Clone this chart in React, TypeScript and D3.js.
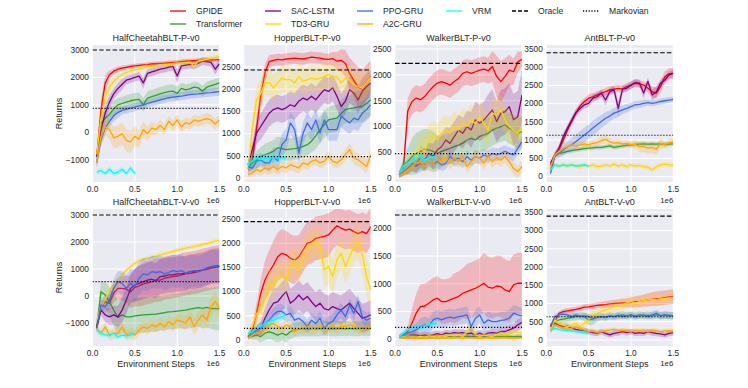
import React from 'react'
import * as d3 from 'd3'

// x positions of the logged points, in units of 1e6 environment steps
const STEPS = [0.05,0.1,0.15,0.2,0.25,0.3,0.35,0.4,0.45,0.5,0.55,0.6,0.65,0.7,0.75,0.8,0.85,0.9,0.95,1.0,1.05,1.1,1.15,1.2,1.25,1.3,1.35,1.4,1.45,1.5]
const VRM_STEPS = [0.05,0.1,0.15,0.2,0.25,0.3,0.35,0.4,0.45,0.5]

const METHODS = ['GPIDE','Transformer','SAC-LSTM','TD3-GRU','PPO-GRU','A2C-GRU','VRM']
const X_TICKS = [0, 0.5, 1.0, 1.5]
const HC_TICKS = [-1000, 0, 1000, 2000, 3000]
const HOP_TICKS = [0, 500, 1000, 1500, 2000, 2500]
const WALK_P_TICKS = [0, 500, 1000, 1500, 2000, 2500]
const WALK_V_TICKS = [0, 500, 1000, 1500, 2000]
const ANT_TICKS = [0, 500, 1000, 1500, 2000, 2500, 3000, 3500]

/* HalfCheetahBLT-P-v0 */
const HCP_GPIDE = [-900,800,1800,2100,2230,2300,2340,2370,2400,2420,2440,2460,2470,2490,2500,2510,2520,2540,2550,2560,2580,2590,2600,2610,2620,2620,2630,2640,2640,2650]
const HCP_GPIDE_SD = [300,400,300,150,100,100,100,80,80,80,80,80,80,80,80,80,80,80,80,80,80,80,80,80,80,80,80,80,80,80]
const HCP_TR = [-900,330,500,650,850,1000,1050,1100,1150,1180,1200,1000,1250,1300,1350,1400,1450,1480,1500,1420,1600,1550,1580,1650,1620,1500,1650,1700,1750,1800]
const HCP_TR_SD = [300,300,300,300,300,250,250,250,250,250,250,250,250,250,250,250,250,250,250,250,200,200,200,200,200,200,200,200,200,200]
const HCP_SAC = [-900,80,700,1100,1400,1600,1750,1900,1950,2000,2050,1800,2150,2200,2250,2300,2330,2380,2400,2050,2420,2450,2480,2450,2520,2600,2580,2550,2300,2500]
const HCP_SAC_SD = [300,400,300,250,200,200,200,150,150,150,150,200,150,150,150,150,150,150,150,250,150,150,150,150,150,150,150,150,200,150]
const HCP_TD3 = [-800,500,1300,1650,1850,2000,2100,2180,2240,2280,2320,2350,2380,2400,2420,2440,2460,2480,2500,2520,2530,2550,2560,2400,2600,2620,2660,2700,2730,2760]
const HCP_TD3_SD = [300,400,300,200,150,120,100,100,100,100,100,100,100,100,100,100,100,100,100,100,100,100,100,150,100,100,100,100,100,100]
const HCP_PPO = [-1100,-280,150,400,600,720,800,840,880,920,960,1000,1050,1100,1140,1180,1220,1260,1280,1300,1320,1350,1370,1390,1400,1420,1440,1450,1470,1480]
const HCP_PPO_SD = [250,250,250,200,200,200,150,150,150,150,150,150,150,150,150,150,150,150,150,150,150,150,150,150,150,150,150,150,150,150]
const HCP_A2C = [-1100,-160,200,100,-200,-150,-50,-300,-350,-150,-250,100,-50,150,100,250,100,400,250,450,200,350,300,450,400,450,500,450,300,450]
const HCP_A2C_SD = [200,300,300,350,400,400,400,400,400,350,300,300,250,250,200,200,200,200,200,200,200,200,200,200,200,200,200,200,200,200]
const HCP_VRM = [-1450,-1400,-1500,-1350,-1500,-1450,-1350,-1500,-1300,-1500]
const HCP_VRM_SD = [100,100,100,100,100,100,100,100,100,100]

/* HopperBLT-P-v0 */
const HOPP_GPIDE = [200,400,1100,1850,2370,2620,2650,2670,2660,2680,2690,2700,2690,2680,2700,2720,2710,2700,2680,2670,2690,2630,2650,2580,2350,2200,2050,2000,2150,2300]
const HOPP_GPIDE_SD = [100,200,300,250,200,150,130,130,130,130,130,130,130,130,130,130,130,130,130,130,150,200,250,300,350,400,450,450,400,350]
const HOPP_TR = [250,340,400,490,520,560,600,680,660,640,650,660,680,710,750,830,950,1090,1200,1310,1330,1350,1450,1540,1560,1580,1600,1610,1680,1760]
const HOPP_TR_SD = [100,150,200,200,250,250,250,250,250,250,250,250,250,250,250,250,300,300,300,300,300,300,300,300,300,350,350,350,350,350]
const HOPP_SAC = [300,640,1010,1160,1310,1460,1540,1580,1540,1580,1650,1610,1730,1800,1760,1840,1760,1880,1990,1950,2030,1840,1610,1730,1990,1910,1760,1950,2060,2140]
const HOPP_SAC_SD = [100,200,250,300,300,300,300,300,300,300,300,300,300,300,300,300,300,300,300,300,300,300,300,300,300,300,300,300,300,300]
const HOPP_TD3 = [200,1100,1760,1900,2150,2150,2030,2140,2250,2210,2220,2140,2290,2180,2210,2250,2220,2250,2290,2330,2250,2290,2140,2250,2210,2100,2060,2020,2140,2290]
const HOPP_TD3_SD = [100,300,300,300,300,300,300,300,300,300,300,300,300,300,300,300,300,300,300,300,300,300,300,300,300,300,300,300,300,250]
const HOPP_PPO = [260,220,375,410,340,340,490,380,750,860,1240,1090,560,1010,1240,1090,1310,1010,1310,1090,1090,1090,1390,1310,1240,1350,1310,1460,1540,1650]
const HOPP_PPO_SD = [100,100,150,150,150,200,200,250,250,250,250,250,250,250,250,250,250,250,250,250,250,250,250,250,250,250,250,250,250,250]
const HOPP_A2C = [75,110,190,150,225,190,260,190,260,225,300,260,225,340,300,375,410,340,375,490,375,340,410,525,640,450,410,340,260,525]
const HOPP_A2C_SD = [60,80,100,100,120,120,120,120,120,120,120,120,120,120,120,120,120,120,120,120,120,120,120,120,150,150,150,150,150,150]
const HOPP_VRM = [300,380,450,420,460,430,470,450,460,450]
const HOPP_VRM_SD = [100,100,100,100,100,100,100,100,100,100]

/* WalkerBLT-P-v0 */
const WALKP_GPIDE = [60,200,1300,1480,1550,1520,1580,1680,1770,1840,1870,1840,1800,1870,1930,2030,2060,2030,2060,2090,2110,2080,2160,1970,1870,1970,2090,2060,2250,2300]
const WALKP_GPIDE_SD = [50,150,250,250,250,250,250,250,250,250,250,250,250,250,250,250,250,250,250,250,250,250,300,400,400,350,300,250,200,150]
const WALKP_TR = [100,260,320,420,480,520,560,550,520,480,520,550,580,610,640,680,740,770,740,810,840,870,930,970,1000,1030,970,930,870,900]
const WALKP_TR_SD = [50,150,250,350,400,400,400,400,400,350,300,300,300,300,300,300,300,300,300,300,300,300,300,300,300,300,300,300,300,300]
const WALKP_SAC = [65,160,225,290,260,420,355,485,420,550,610,740,675,805,935,870,1000,935,1130,1065,1130,1225,1320,1095,1255,1290,1385,1130,1190,1610]
const WALKP_SAC_SD = [50,100,150,150,150,200,200,200,250,250,250,250,300,300,300,300,300,350,350,350,350,400,400,400,450,450,450,500,500,500]
const WALKP_TD3 = [60,160,230,320,390,580,520,740,810,740,870,930,870,1000,930,1060,1000,1130,1060,1190,1060,930,1260,1220,1320,1130,1000,930,870,1000]
const WALKP_TD3_SD = [50,100,150,200,250,300,300,300,300,300,300,300,300,300,300,300,300,300,300,300,300,300,300,300,300,300,300,300,300,300]
const WALKP_PPO = [60,130,190,260,230,290,260,350,290,320,260,290,420,350,390,320,420,350,420,390,450,420,480,450,480,520,480,450,580,710]
const WALKP_PPO_SD = [50,80,100,120,120,120,120,120,120,120,120,120,120,120,120,120,120,120,120,120,120,120,120,120,120,120,120,120,120,120]
const WALKP_A2C = [45,100,160,230,290,320,230,350,290,390,320,420,290,390,320,420,230,320,420,390,290,420,320,390,350,420,320,190,130,230]
const WALKP_A2C_SD = [40,60,80,100,120,120,120,120,120,120,120,120,120,120,120,120,120,120,120,120,120,120,120,120,120,120,120,120,120,120]
const WALKP_VRM = [100,230,290,350,390,420,350,390,420,390]
const WALKP_VRM_SD = [60,80,80,80,80,80,80,80,80,80]

/* AntBLT-P-v0 */
const ANTP_GPIDE = [320,590,730,1000,1280,1510,1740,1940,2060,2150,2190,2240,2290,2330,2380,2400,2420,2400,2470,2510,2560,2540,2510,2420,2330,2290,2470,2740,2820,2830]
const ANTP_GPIDE_SD = [60,80,100,100,100,100,100,100,100,100,100,100,100,100,100,100,100,100,100,100,100,100,100,120,150,150,150,150,150,150]
const ANTP_TR = [180,590,640,660,690,710,730,750,770,780,790,800,800,820,840,800,820,840,860,870,880,890,900,890,900,890,900,880,890,900]
const ANTP_TR_SD = [60,60,60,60,60,60,60,60,60,60,60,60,60,60,60,60,60,60,60,60,60,60,60,60,60,60,60,60,60,60]
const ANTP_SAC = [370,590,780,1100,1330,1550,1760,1870,1970,2010,2150,2190,2290,2100,2330,2380,1870,2400,2420,2510,2580,2560,2290,2610,2240,2330,2560,2650,2790,2830]
const ANTP_SAC_SD = [60,80,100,100,100,100,100,100,100,100,100,100,100,150,100,100,200,100,100,100,100,100,150,100,150,150,100,100,100,100]
const ANTP_TD3 = [270,320,290,320,290,320,300,270,320,290,320,270,290,320,290,340,290,320,270,320,290,310,270,260,180,270,320,340,320,320]
const ANTP_TD3_SD = [70,70,70,70,70,70,70,70,70,70,70,70,70,70,70,70,70,70,70,70,70,70,70,70,70,70,70,70,70,70]
const ANTP_PPO = [90,550,640,730,820,870,960,1050,1140,1230,1330,1420,1510,1600,1660,1740,1780,1830,1870,1920,1970,1980,2010,2030,2010,2030,2060,2080,2100,2120]
const ANTP_PPO_SD = [60,100,120,150,150,180,200,200,200,200,200,200,180,180,150,150,150,120,120,100,100,100,100,80,80,80,80,80,80,80]
const ANTP_A2C = [270,590,690,780,820,870,840,870,900,870,910,930,990,1020,960,910,930,900,910,870,890,820,820,780,800,750,910,870,930,960]
const ANTP_A2C_SD = [60,80,80,80,80,80,100,100,100,100,100,100,100,100,100,100,100,100,100,100,120,150,150,150,150,150,150,100,100,100]
const ANTP_VRM = [180,320,290,320,300,320,290,310,320,290]
const ANTP_VRM_SD = [50,50,50,50,50,50,50,50,50,50]

/* HalfCheetahBLT-V-v0 */
const HCV_GPIDE = [-1200,-400,-210,-270,100,280,280,250,160,320,370,450,490,530,590,590,660,690,720,740,780,820,840,870,900,960,990,1030,1060,1090]
const HCV_GPIDE_SD = [150,200,250,300,350,400,450,500,600,700,750,800,800,800,800,800,800,800,800,800,800,800,800,800,800,800,800,800,800,800]
const HCV_TR = [-1140,160,40,-210,-520,-790,-700,-770,-770,-740,-720,-700,-690,-680,-670,-640,-620,-590,-580,-560,-540,-520,-490,-460,-430,-460,-420,-470,-460,-480]
const HCV_TR_SD = [150,400,500,550,600,650,650,650,650,650,650,650,650,650,650,650,650,650,650,650,650,700,700,700,700,750,750,750,800,800]
const HCV_SAC = [-1140,-520,-700,-770,-700,-770,-520,-150,280,410,470,530,590,620,570,720,740,780,780,820,820,840,900,900,940,960,1030,1090,1110,1120]
const HCV_SAC_SD = [150,200,250,300,350,400,450,500,550,600,650,650,650,650,650,650,650,650,650,650,650,650,650,650,650,650,650,650,650,650]
const HCV_TD3 = [-890,-400,-150,220,410,590,780,960,1090,1210,1300,1360,1400,1430,1480,1520,1560,1610,1640,1700,1730,1770,1800,1830,1870,1910,1950,1990,2030,2060]
const HCV_TD3_SD = [150,150,120,100,100,80,80,80,80,80,80,80,80,80,80,80,80,80,80,80,80,80,80,80,80,80,80,80,80,80]
const HCV_PPO = [-1200,-330,-400,-150,280,530,470,280,470,350,660,820,780,900,870,900,820,870,940,900,940,840,900,940,900,960,1030,1090,1110,1090]
const HCV_PPO_SD = [150,200,250,300,350,400,450,500,550,600,600,600,600,600,600,600,600,600,600,600,600,600,600,600,600,600,600,600,600,600]
const HCV_A2C = [-1200,-1380,-1140,-1450,-1380,-1380,-1140,-1450,-1380,-1450,-1260,-1140,-1200,-1070,-1140,-1010,-1140,-950,-1070,-890,-950,-1010,-770,-1140,-890,-700,-890,-400,-210,-460]
const HCV_A2C_SD = [150,150,200,200,200,200,200,200,200,200,200,200,200,200,200,200,200,200,250,250,250,250,300,300,300,300,350,350,350,350]
const HCV_VRM = [-1260,-1380,-1450,-1450,-1380,-1510,-1450,-1480,-1450,-1380]
const HCV_VRM_SD = [100,100,100,100,100,100,100,100,100,100]

/* HopperBLT-V-v0 */
const HOPV_GPIDE = [70,210,550,960,1240,1410,1550,1720,1790,1760,1690,1650,1720,1860,2000,2030,2100,2120,2140,2170,2270,2360,2310,2270,2290,2240,2200,2240,2200,2340]
const HOPV_GPIDE_SD = [50,100,200,300,400,450,500,500,500,500,500,500,450,450,450,450,450,450,450,450,400,400,400,400,400,400,400,400,400,400]
const HOPV_TR = [100,80,100,70,140,170,140,100,140,100,170,210,220,230,230,220,230,230,240,230,230,230,240,230,240,230,230,240,230,240]
const HOPV_TR_SD = [50,80,100,120,150,150,150,150,150,150,150,150,150,150,150,150,150,150,150,150,150,150,150,150,150,150,150,150,150,150]
const HOPV_SAC = [70,140,210,240,450,620,760,790,900,1000,760,830,930,830,900,790,690,760,650,620,690,650,620,690,760,650,550,450,480,520]
const HOPV_SAC_SD = [50,80,100,150,200,250,300,300,300,300,300,300,300,300,300,300,300,300,300,300,300,300,300,300,300,300,300,300,300,300]
const HOPV_TD3 = [100,280,550,620,830,1170,1100,1340,1310,1240,1520,1650,1450,1720,1860,1960,2030,1930,1450,1520,1310,1650,1790,1520,1720,1930,2030,1760,1310,1030]
const HOPV_TD3_SD = [50,100,200,250,300,300,300,300,300,300,300,300,300,300,300,300,300,300,350,350,350,350,350,350,350,350,350,400,400,400]
const HOPV_PPO = [70,140,170,240,340,410,520,590,590,520,550,410,450,380,280,410,340,450,240,340,380,520,620,480,720,550,790,480,410,450]
const HOPV_PPO_SD = [50,80,100,120,150,150,150,150,150,150,150,150,150,150,150,150,150,150,150,150,150,150,150,150,150,150,150,150,150,150]
const HOPV_A2C = [30,100,140,170,210,310,340,280,240,310,280,170,240,210,280,210,240,280,210,240,280,240,280,280,310,280,240,210,240,280]
const HOPV_A2C_SD = [40,60,80,100,100,100,100,100,100,100,100,100,100,100,100,100,100,100,100,100,100,100,100,100,100,100,100,100,100,100]
const HOPV_VRM = [140,170,240,280,340,380,410,450,480,520]
const HOPV_VRM_SD = [80,80,80,80,80,80,80,80,80,80]

/* WalkerBLT-V-v0 */
const WALKV_GPIDE = [50,80,140,290,470,590,600,650,710,740,680,680,710,740,770,830,860,890,920,960,1010,940,920,960,950,890,860,980,1010,1010]
const WALKV_GPIDE_SD = [30,50,100,250,350,400,400,400,400,400,400,400,400,450,450,450,500,500,500,500,550,550,550,550,550,550,550,550,550,550]
const WALKV_TR = [40,45,50,48,52,50,48,55,50,52,50,48,52,50,55,52,50,48,52,50,55,50,52,48,50,52,50,48,50,52]
const WALKV_TR_SD = [40,40,40,40,40,40,40,40,40,40,40,40,40,40,40,40,40,40,40,40,40,40,40,40,40,40,40,40,40,40]
const WALKV_SAC = [40,50,60,80,80,60,80,60,80,100,80,110,100,120,110,120,100,110,80,110,80,110,120,110,140,140,170,200,260,300]
const WALKV_SAC_SD = [30,40,50,60,60,60,60,60,60,60,60,60,60,60,60,60,60,60,60,60,60,60,60,60,60,70,80,90,100,100]
const WALKV_TD3 = [40,50,60,50,40,50,40,60,50,40,60,50,80,60,80,50,140,200,80,50,80,60,50,80,110,80,110,140,120,110]
const WALKV_TD3_SD = [30,40,50,50,50,50,50,50,50,50,50,50,50,50,50,50,60,60,50,50,50,50,50,50,50,50,50,50,50,50]
const WALKV_PPO = [50,80,110,140,170,230,260,230,350,380,350,380,400,380,410,420,440,230,380,440,290,350,320,320,340,350,380,470,440,420]
const WALKV_PPO_SD = [30,50,80,100,120,150,150,150,150,150,150,150,150,150,150,150,150,150,150,150,150,150,150,150,150,150,150,150,150,150]
const WALKV_A2C = [30,25,20,28,22,25,20,30,25,22,28,25,20,25,30,22,25,28,20,25,22,30,25,20,28,25,22,25,20,28]
const WALKV_A2C_SD = [30,30,30,30,30,30,30,30,30,30,30,30,30,30,30,30,30,30,30,30,30,30,30,30,30,30,30,30,30,30]
const WALKV_VRM = [50,110,170,200,230,220,240,260,280,290]
const WALKV_VRM_SD = [60,60,60,60,60,60,60,60,60,60]

/* AntBLT-V-v0 */
const ANTV_GPIDE = [410,500,730,780,800,820,840,870,900,910,930,950,960,970,990,1000,1010,1020,1020,1030,1050,1060,1080,1100,1120,1130,1140,1160,1180,1190]
const ANTV_GPIDE_SD = [60,60,60,70,70,70,70,70,80,80,80,80,90,90,100,100,100,120,120,140,150,160,170,180,190,200,200,200,200,200]
const ANTV_TR = [370,500,550,570,590,620,640,660,640,550,570,620,640,620,660,640,660,690,660,680,660,690,660,680,660,690,670,680,660,670]
const ANTV_TR_SD = [60,80,100,100,100,100,100,100,120,150,150,120,100,100,100,100,100,100,100,100,100,100,100,100,100,100,100,100,100,100]
const ANTV_SAC = [370,460,410,370,380,320,290,270,260,230,200,180,230,180,140,180,200,230,200,230,180,200,180,230,200,180,170,140,180,200]
const ANTV_SAC_SD = [80,80,80,80,80,80,80,80,80,80,80,80,80,80,80,80,80,80,80,80,80,80,80,80,80,80,80,80,80,80]
const ANTV_TD3 = [270,550,460,410,370,410,460,370,460,550,690,730,780,820,870,910,930,960,1020,1050,1010,1050,1080,1100,1120,1100,1130,1140,1160,1170]
const ANTV_TD3_SD = [60,80,100,100,100,100,100,100,100,120,150,150,150,150,150,150,150,150,150,150,150,150,150,150,150,150,150,150,150,150]
const ANTV_PPO = [370,640,690,710,690,640,690,640,660,640,590,620,640,620,660,640,680,640,660,690,640,660,690,640,690,730,660,690,680,660]
const ANTV_PPO_SD = [60,80,80,80,80,80,80,80,80,80,80,80,80,80,80,80,80,80,80,80,80,80,80,80,100,100,100,100,100,100]
const ANTV_A2C = [230,410,370,320,290,320,370,320,270,230,260,200,230,260,270,290,270,260,270,230,270,260,270,230,270,260,230,250,260,250]
const ANTV_A2C_SD = [60,60,60,60,60,60,60,60,60,60,60,60,60,60,60,60,60,60,60,60,60,60,60,60,60,60,60,60,60,60]
const ANTV_VRM = [270,320,290,270,260,250,230,220,200,180]
const ANTV_VRM_SD = [50,50,50,50,50,50,50,50,50,50]

const COLORS: Record<string, string> = {
  'GPIDE': '#ff0000',
  'Transformer': '#2ca02c',
  'SAC-LSTM': '#800080',
  'TD3-GRU': '#ffd700',
  'PPO-GRU': '#4169e1',
  'A2C-GRU': '#ffa500',
  'VRM': '#00ffff',
}

// [mean, sd] per method, same order as METHODS
const PANELS = [
  { title: 'HalfCheetahBLT-P-v0', yDomain: [-1812, 3183], yTicks: HC_TICKS, oracle: 3000, markov: 875,
    series: [[HCP_GPIDE, HCP_GPIDE_SD], [HCP_TR, HCP_TR_SD], [HCP_SAC, HCP_SAC_SD], [HCP_TD3, HCP_TD3_SD], [HCP_PPO, HCP_PPO_SD], [HCP_A2C, HCP_A2C_SD], [HCP_VRM, HCP_VRM_SD]] },
  { title: 'HopperBLT-P-v0', yDomain: [-90, 2995], yTicks: HOP_TICKS, oracle: 2432, markov: 480,
    series: [[HOPP_GPIDE, HOPP_GPIDE_SD], [HOPP_TR, HOPP_TR_SD], [HOPP_SAC, HOPP_SAC_SD], [HOPP_TD3, HOPP_TD3_SD], [HOPP_PPO, HOPP_PPO_SD], [HOPP_A2C, HOPP_A2C_SD], [HOPP_VRM, HOPP_VRM_SD]] },
  { title: 'WalkerBLT-P-v0', yDomain: [-72, 2577], yTicks: WALK_P_TICKS, oracle: 2223, markov: 478,
    series: [[WALKP_GPIDE, WALKP_GPIDE_SD], [WALKP_TR, WALKP_TR_SD], [WALKP_SAC, WALKP_SAC_SD], [WALKP_TD3, WALKP_TD3_SD], [WALKP_PPO, WALKP_PPO_SD], [WALKP_A2C, WALKP_A2C_SD], [WALKP_VRM, WALKP_VRM_SD]] },
  { title: 'AntBLT-P-v0', yDomain: [-148, 3609], yTicks: ANT_TICKS, oracle: 3397, markov: 1134,
    series: [[ANTP_GPIDE, ANTP_GPIDE_SD], [ANTP_TR, ANTP_TR_SD], [ANTP_SAC, ANTP_SAC_SD], [ANTP_TD3, ANTP_TD3_SD], [ANTP_PPO, ANTP_PPO_SD], [ANTP_A2C, ANTP_A2C_SD], [ANTP_VRM, ANTP_VRM_SD]] },
  { title: 'HalfCheetahBLT-V-v0', yDomain: [-1852, 3222], yTicks: HC_TICKS, oracle: 3000, markov: 530,
    series: [[HCV_GPIDE, HCV_GPIDE_SD], [HCV_TR, HCV_TR_SD], [HCV_SAC, HCV_SAC_SD], [HCV_TD3, HCV_TD3_SD], [HCV_PPO, HCV_PPO_SD], [HCV_A2C, HCV_A2C_SD], [HCV_VRM, HCV_VRM_SD]] },
  { title: 'HopperBLT-V-v0', yDomain: [-124, 2707], yTicks: HOP_TICKS, oracle: 2445, markov: 242,
    series: [[HOPV_GPIDE, HOPV_GPIDE_SD], [HOPV_TR, HOPV_TR_SD], [HOPV_SAC, HOPV_SAC_SD], [HOPV_TD3, HOPV_TD3_SD], [HOPV_PPO, HOPV_PPO_SD], [HOPV_A2C, HOPV_A2C_SD], [HOPV_VRM, HOPV_VRM_SD]] },
  { title: 'WalkerBLT-V-v0', yDomain: [-121, 2348], yTicks: WALK_V_TICKS, oracle: 2240, markov: 216,
    series: [[WALKV_GPIDE, WALKV_GPIDE_SD], [WALKV_TR, WALKV_TR_SD], [WALKV_SAC, WALKV_SAC_SD], [WALKV_TD3, WALKV_TD3_SD], [WALKV_PPO, WALKV_PPO_SD], [WALKV_A2C, WALKV_A2C_SD], [WALKV_VRM, WALKV_VRM_SD]] },
  { title: 'AntBLT-V-v0', yDomain: [-164, 3590], yTicks: ANT_TICKS, oracle: 3396, markov: 637,
    series: [[ANTV_GPIDE, ANTV_GPIDE_SD], [ANTV_TR, ANTV_TR_SD], [ANTV_SAC, ANTV_SAC_SD], [ANTV_TD3, ANTV_TD3_SD], [ANTV_PPO, ANTV_PPO_SD], [ANTV_A2C, ANTV_A2C_SD], [ANTV_VRM, ANTV_VRM_SD]] },
]

/* layout */
const W = 748
const H = 388
const LEFTS = [92.5, 243.8, 395, 546.3]
const TOPS = [45, 209]
const PW = 127
const PH = 137
const FONT = '"Liberation Sans", Arial, sans-serif'
const INK = '#262626'

const fmt = (v: number) => (v < 0 ? '\u2212' + Math.abs(v) : String(v))

function Panel({ p, idx }: { p: any; idx: number }) {
  const row = Math.floor(idx / 4)
  const col = idx % 4
  const left = LEFTS[col]
  const top = TOPS[row]
  const x = d3.scaleLinear().domain([0, 1.5]).range([left, left + PW])
  const y = d3.scaleLinear().domain(p.yDomain).range([top + PH, top])

  const line = d3.line<[number, number]>().x(d => x(d[0])).y(d => y(d[1]))
  const area = d3.area<[number, number, number]>()
    .x(d => x(d[0]))
    .y0(d => y(d[1] - d[2]))
    .y1(d => y(d[1] + d[2]))

  const clipId = `clip-${idx}`

  return (
    <g>
      <defs>
        <clipPath id={clipId}>
          <rect x={left} y={top} width={PW} height={PH} />
        </clipPath>
      </defs>
      <rect x={left} y={top} width={PW} height={PH} fill="#eaeaf2" />
      {/* grid */}
      {p.yTicks.map((t: number) => (
        <line key={'gy' + t} x1={left} x2={left + PW} y1={y(t)} y2={y(t)} stroke="#fff" strokeWidth={1} />
      ))}
      {X_TICKS.map(t => (
        <line key={'gx' + t} x1={x(t)} x2={x(t)} y1={top} y2={top + PH} stroke="#fff" strokeWidth={1} />
      ))}
      <g clipPath={`url(#${clipId})`}>
        {METHODS.map((m, i) => {
          const [mean, sd] = p.series[i]
          const xs = m === 'VRM' ? VRM_STEPS : STEPS
          const pts = xs.map((s, j) => [s, mean[j], sd[j]] as [number, number, number])
          return (
            <g key={m}>
              <path d={area(pts) || ''} fill={COLORS[m]} fillOpacity={0.22} stroke="none" />
              <path d={line(pts.map(d => [d[0], d[1]] as [number, number])) || ''} fill="none" stroke={COLORS[m]} strokeWidth={1.3} strokeLinejoin="round" />
            </g>
          )
        })}
        <line x1={left} x2={left + PW} y1={y(p.oracle)} y2={y(p.oracle)} stroke="#000" strokeWidth={1.2} strokeDasharray="4.5,2.2" />
        <line x1={left} x2={left + PW} y1={y(p.markov)} y2={y(p.markov)} stroke="#000" strokeWidth={1.2} strokeDasharray="1.2,1.8" />
      </g>
      {/* tick labels */}
      {p.yTicks.map((t: number) => (
        <text key={'ty' + t} x={left - 3.5} y={y(t)} dy="0.34em" textAnchor="end" fontSize={8.3} fill={INK} fontFamily={FONT}>{fmt(t)}</text>
      ))}
      {X_TICKS.map(t => (
        <text key={'tx' + t} x={x(t)} y={top + PH + 9.5} textAnchor="middle" fontSize={8.3} fill={INK} fontFamily={FONT}>{t.toFixed(1)}</text>
      ))}
      <text x={left + PW} y={top + PH + (row === 0 ? 21 : 19.5)} textAnchor="end" fontSize={7.8} fill={INK} fontFamily={FONT}>1e6</text>
      <text x={left + PW / 2} y={top - 4} textAnchor="middle" fontSize={9} fill={INK} fontFamily={FONT}>{p.title}</text>
      {col === 0 && (
        <text transform={`translate(62,${top + PH / 2}) rotate(-90)`} textAnchor="middle" fontSize={9} fill={INK} fontFamily={FONT}>Returns</text>
      )}
      {row === 1 && (
        <text x={left + PW / 2} y={top + PH + 21} textAnchor="middle" fontSize={9.2} fill={INK} fontFamily={FONT}>Environment Steps</text>
      )}
    </g>
  )
}

const LEGEND = [
  ...METHODS.map(m => ({ label: m, color: COLORS[m], dash: undefined as string | undefined })),
  { label: 'Oracle', color: '#000', dash: '4,2' },
  { label: 'Markovian', color: '#000', dash: '1.2,1.6' },
]
const LEG_COLS = [170, 265, 357, 446, 512, 583]
const LEG_ROWS = [11, 24]

function Legend() {
  // matplotlib fills 9 entries into 6 columns: first three columns hold two rows
  const slots: [number, number][] = [[0,0],[0,1],[1,0],[1,1],[2,0],[2,1],[3,0],[4,0],[5,0]]
  return (
    <g>
      {LEGEND.map((e, i) => {
        const [c, r] = slots[i]
        const lx = LEG_COLS[c]
        const ly = LEG_ROWS[r]
        return (
          <g key={e.label}>
            <line x1={lx} x2={lx + 16} y1={ly} y2={ly} stroke={e.color} strokeWidth={1.3} strokeDasharray={e.dash} />
            <text x={lx + 26} y={ly} dy="0.34em" fontSize={8.6} fill={INK} fontFamily={FONT}>{e.label}</text>
          </g>
        )
      })}
    </g>
  )
}

export default function App() {
  return (
    <svg width={W} height={H} viewBox={`0 0 ${W} ${H}`} style={{ position: 'absolute', left: 0, top: 0, background: '#fff' }}>
      <rect width={W} height={H} fill="#fff" />
      <Legend />
      {PANELS.map((p, i) => <Panel key={p.title} p={p} idx={i} />)}
    </svg>
  )
}
